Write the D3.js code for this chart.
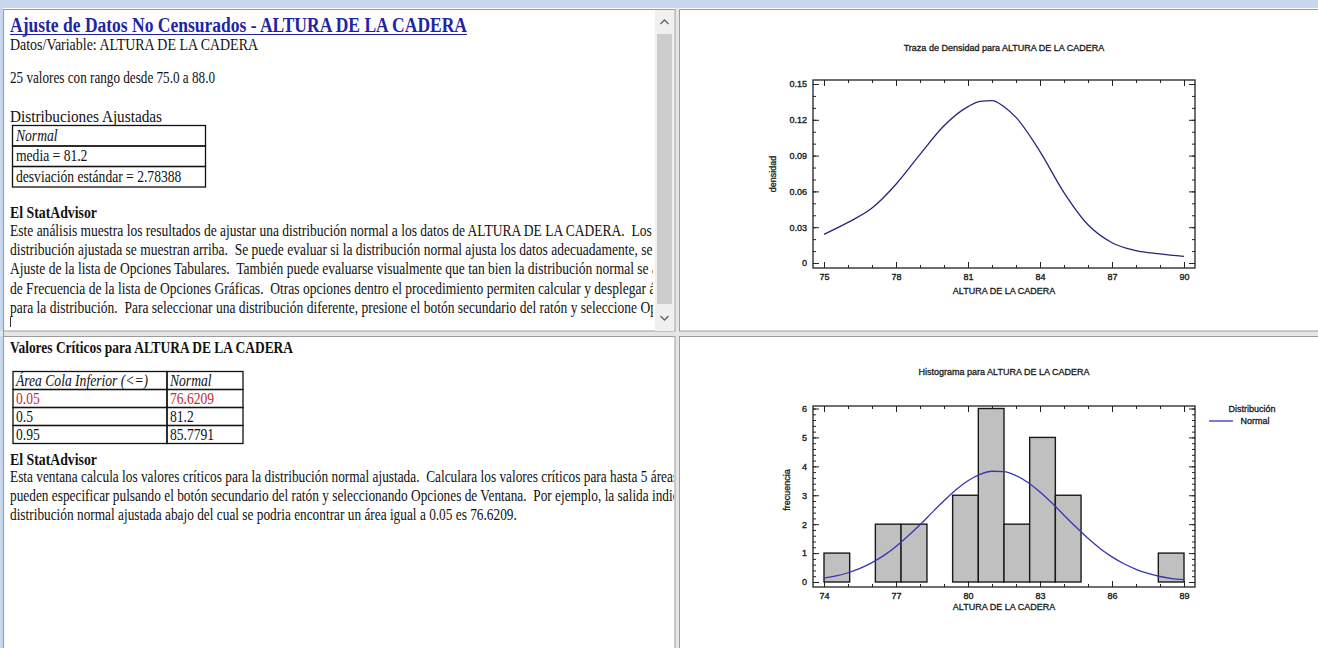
<!DOCTYPE html>
<html><head><meta charset="utf-8">
<script src="https://cdn.jsdelivr.net/npm/d3@7"></script>
<style>html,body{margin:0;padding:0;background:#fff;overflow:hidden}svg{display:block}</style>
</head><body><svg id="c" width="1318" height="648"></svg>
<script>
// ---------- data ----------
const densX = [75,76,77,78,79,80,81,81.5,82,82.5,83,84,85,86,87,88,89,90];
const densY = [0.024,0.034,0.046,0.066,0.091,0.115,0.131,0.1355,0.136,0.131,0.122,0.0934,0.059,0.032,0.017,0.0104,0.0077,0.0055];
const densXTicks = [75,78,81,84,87,90];
const densYTicks = [0,0.03,0.06,0.09,0.12,0.15];

const histEdges = [74.0,75.07,76.14,77.21,78.29,79.36,80.43,81.5,82.57,83.64,84.71,85.79,86.86,87.93,89.0];
const histFreq = [1,0,2,2,0,3,6,2,5,3,0,0,0,1];
const histXTicks = [74,77,80,83,86,89];
const histYTicks = [0,1,2,3,4,5,6];
const normX = [74,74.5,75,75.5,76,76.5,77,77.5,78,78.5,79,79.5,80,80.5,81,81.5,82,82.5,83,83.5,84,84.5,85,85.5,86,86.5,87,87.5,88,88.5,89];
const normY = [0.135,0.21,0.32,0.47,0.67,0.92,1.23,1.59,1.98,2.40,2.81,3.19,3.50,3.72,3.83,3.82,3.68,3.44,3.11,2.73,2.31,1.90,1.51,1.16,0.87,0.63,0.44,0.30,0.19,0.12,0.08];

const varName = 'ALTURA DE LA CADERA';
const topTitle = 'Ajuste de Datos No Censurados - ALTURA DE LA CADERA';
const topLines = ['Datos/Variable: ALTURA DE LA CADERA', '25 valores con rango desde 75.0 a 88.0', 'Distribuciones Ajustadas'];
const fitHeader = 'Normal';
const fitParams = ['media = 81.2', 'desviación estándar = 2.78388'];
const advisorTitle = 'El StatAdvisor';
const topPara = [
 'Este análisis muestra los resultados de ajustar una distribución normal a los datos de ALTURA DE LA CADERA.  Los parámetros',
 'distribución ajustada se muestran arriba.  Se puede evaluar si la distribución normal ajusta los datos adecuadamente, seleccionando',
 'Ajuste de la lista de Opciones Tabulares.  También puede evaluarse visualmente que tan bien la distribución normal se ajusta',
 'de Frecuencia de la lista de Opciones Gráficas.  Otras opciones dentro el procedimiento permiten calcular y desplegar áreas',
 'para la distribución.  Para seleccionar una distribución diferente, presione el botón secundario del ratón y seleccione Opciones'
];
const critTitle = 'Valores Críticos para ALTURA DE LA CADERA';
const critHeader = ['Área Cola Inferior (<=)', 'Normal'];
const critArea = ['0.05','0.5','0.95'];
const critValue = ['76.6209','81.2','85.7791'];
const botPara = [
 'Esta ventana calcula los valores críticos para la distribución normal ajustada.  Calculara los valores críticos para hasta 5 áreas',
 'pueden especificar pulsando el botón secundario del ratón y seleccionando Opciones de Ventana.  Por ejemplo, la salida indica',
 'distribución normal ajustada abajo del cual se podria encontrar un área igual a 0.05 es 76.6209.'
];

// ---------- drawing ----------
const svg = d3.select('#c');
const SERIF = '"Liberation Serif","Times New Roman",serif';
const SANS = '"Liberation Sans",Arial,sans-serif';

svg.append('rect').attr('x',0).attr('y',0).attr('width',1318).attr('height',648).attr('fill','#fff');
svg.append('rect').attr('x',0).attr('y',0).attr('width',1318).attr('height',8).attr('fill','#c9d8ec');
svg.append('rect').attr('x',0).attr('y',0).attr('width',3).attr('height',648).attr('fill','#c9d8ec');
svg.append('rect').attr('x',675).attr('y',8).attr('width',4).attr('height',640).attr('fill','#e6e6e6');
svg.append('rect').attr('x',0).attr('y',331).attr('width',1318).attr('height',5).attr('fill','#e6e6e6');
const panels = [[3.5,9.5,671.5,321.5],[3.5,336.5,671.5,312],[679.5,9.5,639,321.5],[679.5,336.5,639,312]];
panels.forEach(p=>svg.append('rect').attr('x',p[0]).attr('y',p[1]).attr('width',p[2]).attr('height',p[3])
  .attr('fill','#fff').attr('stroke','#9c9c9c').attr('stroke-width',1));
svg.append('line').attr('x1',3.5).attr('x2',3.5).attr('y1',9).attr('y2',648).attr('stroke','#8aa4cc').attr('stroke-width',1.2);

const defs = svg.append('defs');
defs.append('clipPath').attr('id','clipTop').append('rect').attr('x',5).attr('y',10).attr('width',648).attr('height',320);
defs.append('clipPath').attr('id','clipBot').append('rect').attr('x',5).attr('y',337).attr('width',669).attr('height',311);

function txt(g, x, y, s, o={}) {
  const t = g.append('text')
    .attr('font-family',SERIF).attr('font-size',o.size||16).attr('font-weight',o.bold?'bold':'normal')
    .attr('font-style',o.italic?'italic':'normal').attr('fill',o.fill||'#111').style('white-space','pre').text(s);
  if (o.len) t.attr('transform',`translate(${x},${y})`).attr('textLength',o.len).attr('lengthAdjust','spacingAndGlyphs');
  else t.attr('transform',`translate(${x},${y}) scale(${o.sx||0.86},1)`);
  return t;
}

// ---- top-left panel ----
const tl = svg.append('g').attr('clip-path','url(#clipTop)');
txt(tl, 10, 32, topTitle, {size:20, bold:true, fill:'#1f24a6', len:457});
tl.append('line').attr('x1',10).attr('x2',467).attr('y1',34.5).attr('y2',34.5).attr('stroke','#1f24a6').attr('stroke-width',1.2);
txt(tl, 10, 50, topLines[0], {len:248});
txt(tl, 10, 83, topLines[1], {len:205});
txt(tl, 10, 122, topLines[2], {len:152});
const fitRows = [fitHeader].concat(fitParams);
const tTop = 125.5, tRowH = 20.5;
fitRows.forEach((r,i)=>{
  tl.append('rect').attr('x',12.5).attr('y',tTop+i*tRowH).attr('width',193).attr('height',tRowH)
    .attr('fill','none').attr('stroke','#111').attr('stroke-width',1.3);
  txt(tl, 16, tTop+i*tRowH+15, r, {italic:i===0, sx:0.85});
});
txt(tl, 10, 218, advisorTitle, {bold:true, len:87});
topPara.forEach((l,i)=>txt(tl, 10, 236+i*19.2, l, {sx:0.845}));
tl.append('line').attr('x1',10.5).attr('x2',10.5).attr('y1',317).attr('y2',327).attr('stroke','#333');

// scrollbar
const sb = svg.append('g');
sb.append('rect').attr('x',655).attr('y',10).attr('width',19).attr('height',321).attr('fill','#f0f0f0');
sb.append('rect').attr('x',657).attr('y',34).attr('width',15).attr('height',270).attr('fill','#cdcdcd');
sb.append('path').attr('d','M660.5,24 L664.5,20 L668.5,24').attr('fill','none').attr('stroke','#606060').attr('stroke-width',1.3);
sb.append('path').attr('d','M660.5,316 L664.5,320 L668.5,316').attr('fill','none').attr('stroke','#606060').attr('stroke-width',1.3);

// ---- bottom-left panel ----
const bl = svg.append('g').attr('clip-path','url(#clipBot)');
txt(bl, 10, 353, critTitle, {bold:true, len:283});
const cTop = 371.5, cRowH = 18, c0 = 13, c1 = 167, c2 = 243;
[critHeader].concat(critArea.map((a,i)=>[a, critValue[i]])).forEach((r,i)=>{
  const y0 = cTop + i*cRowH;
  bl.append('rect').attr('x',c0).attr('y',y0).attr('width',c1-c0).attr('height',cRowH).attr('fill','none').attr('stroke','#111').attr('stroke-width',1.3);
  bl.append('rect').attr('x',c1).attr('y',y0).attr('width',c2-c1).attr('height',cRowH).attr('fill','none').attr('stroke','#111').attr('stroke-width',1.3);
  const col = i===1 ? '#c42b2f' : '#111';
  txt(bl, c0+3, y0+14, r[0], {italic:i===0, fill:col, sx:0.85});
  txt(bl, c1+3, y0+14, r[1], {italic:i===0, fill:col, sx:0.85});
});
txt(bl, 10, 465, advisorTitle, {bold:true, len:87});
botPara.forEach((l,i)=>txt(bl, 10, 482+i*19.2, l, {sx:0.833}));

// ---------- charts ----------
function drawFrameAxes(g, x, y, F, xMaj, xMin, yMaj, yMin, yFmt, xFmt) {
  const style = s => { s.select('.domain').remove(); s.selectAll('line').attr('stroke','#222');
    s.selectAll('text').attr('font-family',SANS).attr('font-size',9).attr('fill','#1a1a1a').attr('stroke','#1a1a1a').attr('stroke-width',0.35); };
  g.append('g').attr('transform',`translate(0,${F.b})`).call(d3.axisBottom(x).tickValues(xMin).tickSize(-3).tickFormat('')).call(style);
  g.append('g').attr('transform',`translate(0,${F.b})`).call(d3.axisBottom(x).tickValues(xMaj).tickSize(-6).tickPadding(6).tickFormat(xFmt)).call(style);
  g.append('g').attr('transform',`translate(0,${F.t})`).call(d3.axisTop(x).tickValues(xMin).tickSize(-3).tickFormat('')).call(style);
  g.append('g').attr('transform',`translate(0,${F.t})`).call(d3.axisTop(x).tickValues(xMaj).tickSize(-6).tickFormat('')).call(style);
  g.append('g').attr('transform',`translate(${F.l},0)`).call(d3.axisLeft(y).tickValues(yMin).tickSize(-3).tickFormat('')).call(style);
  g.append('g').attr('transform',`translate(${F.l},0)`).call(d3.axisLeft(y).tickValues(yMaj).tickSize(-6).tickPadding(6).tickFormat(yFmt)).call(style);
  g.append('g').attr('transform',`translate(${F.r},0)`).call(d3.axisRight(y).tickValues(yMin).tickSize(-3).tickFormat('')).call(style);
  g.append('g').attr('transform',`translate(${F.r},0)`).call(d3.axisRight(y).tickValues(yMaj).tickSize(-6).tickFormat('')).call(style);
  g.append('rect').attr('x',F.l).attr('y',F.t).attr('width',F.r-F.l).attr('height',F.b-F.t)
    .attr('fill','none').attr('stroke','#222').attr('stroke-width',1.3);
}
function label(g, x, y, s, rot) {
  const t = g.append('text').attr('font-family',SANS).attr('font-size',9).attr('fill','#1a1a1a')
    .attr('stroke','#1a1a1a').attr('stroke-width',0.3).attr('text-anchor','middle').text(s);
  if (rot) t.attr('transform',`translate(${x},${y}) rotate(-90)`); else t.attr('x',x).attr('y',y);
  return t;
}
const rng = (a,b,s)=>d3.range(Math.round((b-a)/s)+1).map(i=>+(a+i*s).toFixed(4));

// density chart
const dg = svg.append('g');
const dF = {l:813, r:1195, t:80, b:268};
const dx = d3.scaleLinear().domain([75,90]).range([824,1184]);
const dy = d3.scaleLinear().domain([0,0.15]).range([263,84]);
drawFrameAxes(dg, dx, dy, dF, densXTicks, rng(75,90,1), densYTicks, rng(0,0.15,0.01),
  d=> d===0 ? '0' : d3.format('.2f')(d), d3.format('d'));
dg.append('path').datum(densX.map((v,i)=>[v,densY[i]]))
  .attr('d', d3.line().x(d=>dx(d[0])).y(d=>dy(d[1])).curve(d3.curveMonotoneX))
  .attr('fill','none').attr('stroke','#26267e').attr('stroke-width',1.3);
label(dg, 1004, 51, 'Traza de Densidad para ' + varName);
label(dg, 1004, 294, varName);
label(dg, 776, 174, 'densidad', true);

// histogram chart
const hg = svg.append('g');
const hF = {l:813, r:1195, t:406, b:587};
const hx = d3.scaleLinear().domain([74,89]).range([824,1184]);
const hy = d3.scaleLinear().domain([0,6]).range([582,408.5]);
hg.selectAll('rect.bar').data(histFreq.map((f,i)=>({f, a:histEdges[i], b:histEdges[i+1]})).filter(d=>d.f>0))
  .join('rect').attr('class','bar')
  .attr('x',d=>hx(d.a)).attr('width',d=>hx(d.b)-hx(d.a))
  .attr('y',d=>hy(d.f)).attr('height',d=>hy(0)-hy(d.f))
  .attr('fill','#c0c0c0').attr('stroke','#1a1a1a').attr('stroke-width',1.4);
drawFrameAxes(hg, hx, hy, hF, histXTicks, rng(74,89,1), histYTicks, rng(0,6,0.2), d3.format('d'), d3.format('d'));
hg.append('path').datum(normX.map((v,i)=>[v,normY[i]]))
  .attr('d', d3.line().x(d=>hx(d[0])).y(d=>hy(d[1])).curve(d3.curveMonotoneX))
  .attr('fill','none').attr('stroke','#3535b5').attr('stroke-width',1.3);
label(hg, 1004, 375, 'Histograma para ' + varName);
label(hg, 1004, 610, varName);
label(hg, 790, 490, 'frecuencia', true);
label(hg, 1252, 412, 'Distribución');
hg.append('line').attr('x1',1209).attr('x2',1233).attr('y1',421).attr('y2',421).attr('stroke','#3535b5').attr('stroke-width',1.3);
label(hg, 1255, 424, 'Normal');
</script></body></html>
